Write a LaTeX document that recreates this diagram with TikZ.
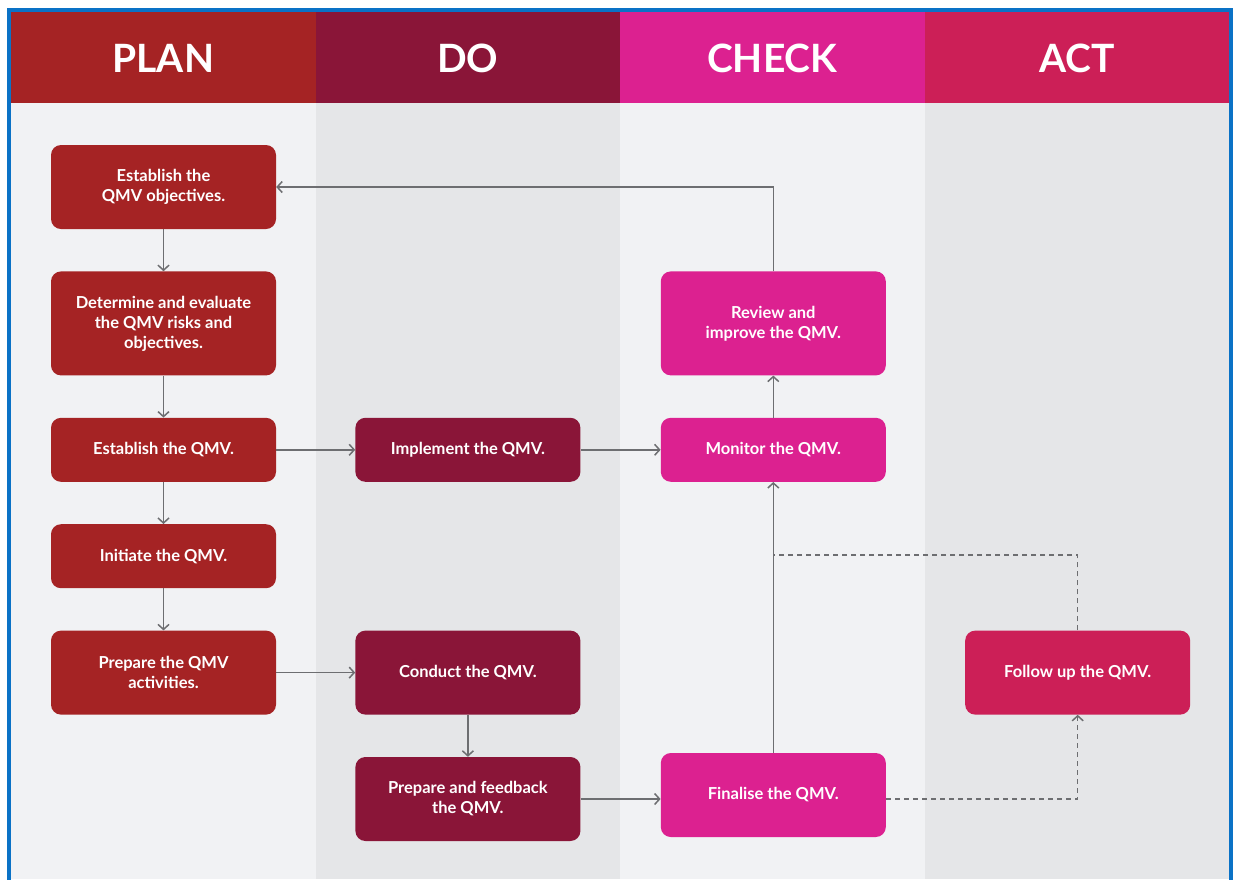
\documentclass[tikz,border=0pt]{standalone}
\usepackage{fontspec}
\setmainfont{Lato}
\usetikzlibrary{positioning, arrows.meta}
\definecolor{planred}{HTML}{A52324}
\definecolor{dowine}{HTML}{8A1538}
\definecolor{checkpink}{HTML}{DC2190}
\definecolor{actrose}{HTML}{CC1F57}
\definecolor{laneA}{HTML}{F1F2F4}
\definecolor{laneB}{HTML}{E5E6E8}
\definecolor{flowgrey}{HTML}{6D6E71}
\definecolor{frameblue}{HTML}{0A72C6}

\tikzset{
  task/.style={rounded corners=10pt, minimum width=225pt, minimum height=64pt,
    inner sep=0pt, align=center, text=white,
    font=\bfseries\fontsize{16.5}{20}\selectfont},
  mid/.style={minimum height=84pt},
  big/.style={minimum height=104pt},
  flow/.style={draw=flowgrey, line width=1.5pt, -{Straight Barb[length=5pt,width=11pt]}},
  loose/.style={draw=flowgrey, line width=1.5pt, dash pattern=on 5pt off 4pt}
}

\begin{document}
\begin{tikzpicture}[x=1pt, y=1pt, node distance=42pt and 79pt]
   \useasboundingbox[fill=white] (0,0) rectangle (1233,-879);

   % lanes and headings
   \foreach \col/\head/\lane [count=\i] in {planred/PLAN/laneA, dowine/DO/laneB,
                                             checkpink/CHECK/laneA, actrose/ACT/laneB} {
     \fill[\lane] ({11+(\i-1)*304.5},-103) rectangle ({11+\i*304.5},-879);
     \fill[\col] ({11+(\i-1)*304.5},-11) rectangle ({11+\i*304.5},-103);
     \node[text=white, font=\bfseries\fontsize{39}{39}\selectfont] (head\i)
       at ({11+(\i-0.5)*304.5},-58) {\head};
   }
   \draw[frameblue, line width=4pt] (9,-900) -- (9,-10) -- (1231,-10) -- (1231,-900);

   % plan
   \node[task, mid, fill=planred] (estobj) at (163.5,-187) {Establish the\\QMV objectives.};
   \node[task, big, fill=planred] (risks) [below=of estobj] {Determine and evaluate\\the QMV risks and\\objectives.};
   \node[task, fill=planred] (estqmv) [below=of risks] {Establish the QMV.};
   \node[task, fill=planred] (initiate) [below=of estqmv] {Initiate the QMV.};
   \node[task, mid, fill=planred] (prepact) [below=of initiate] {Prepare the QMV\\activities.};

   % do
   \node[task, fill=dowine] (implement) [right=of estqmv] {Implement the QMV.};
   \node[task, mid, fill=dowine] (conduct) [right=of prepact] {Conduct the QMV.};
   \node[task, mid, fill=dowine] (feedback) [below=of conduct] {Prepare and feedback\\the QMV.};

   % check
   \node[task, fill=checkpink] (monitor) [right=80pt of implement] {Monitor the QMV.};
   \node[task, big, fill=checkpink] (review) [above=of monitor] {Review and\\improve the QMV.};
   \node[task, mid, fill=checkpink] (final) [right=80pt of feedback, yshift=4pt] {Finalise the QMV.};

   % act
   \node[task, mid, fill=actrose] (follow) [right=of final.east |- conduct.east] {Follow up the QMV.};

   \path[flow]
    (estobj) edge (risks)
    (risks) edge (estqmv)
    (estqmv) edge (initiate)
             edge (implement)
    (initiate) edge (prepact)
    (prepact) edge (conduct)
    (conduct) edge (feedback)
    (implement) edge (monitor)
    (monitor) edge (review)
    (final) edge (monitor);
   \draw[flow] (feedback.east) -- (feedback.east -| final.west);
   \draw[flow] (review.north) |- (estobj.east);

   \coordinate (join) at (773,-555);
   \draw[loose, -{Straight Barb[length=5pt,width=11pt]}] (feedback.east -| final.east) -| (follow.south);
   \draw[loose] (follow.north) |- (join);
\end{tikzpicture}
\end{document}
